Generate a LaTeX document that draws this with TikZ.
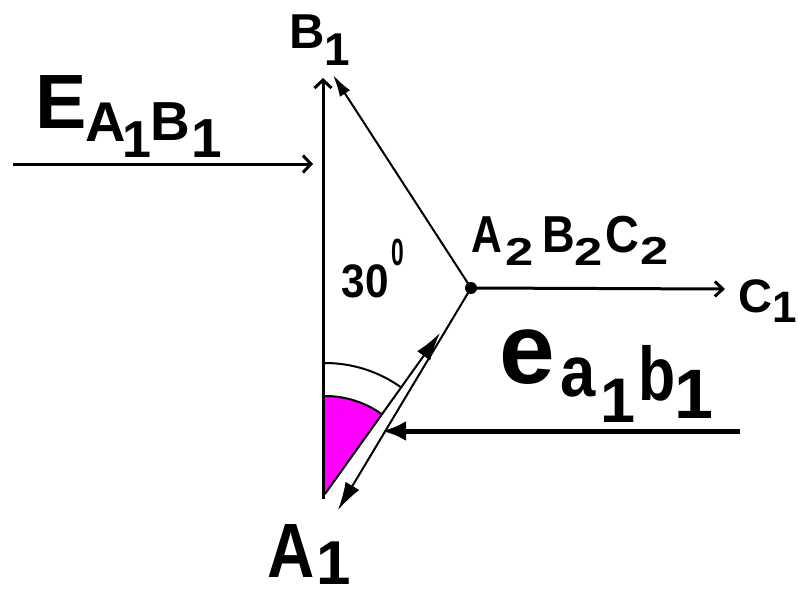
\documentclass[tikz,border=0pt]{standalone}
\usepackage{fontspec}
\setmainfont{Liberation Sans}
\usetikzlibrary{arrows.meta,calc}
\definecolor{mag}{RGB}{255,0,255}
\newcommand{\gsz}[1]{\fontsize{#1pt}{#1pt}\bfseries\selectfont}
\newcommand{\sx}[2]{\scalebox{#1}[1]{#2}}
\begin{document}
\begin{tikzpicture}[x=1pt,y=-1pt,
  g/.style={inner sep=0pt,anchor=base},
  thick line/.style={line width=3pt},
  thin line/.style={line width=2pt},
  barb/.style={-{Straight Barb[length=8pt,width=17pt]}},
]
\useasboundingbox (0,0) rectangle (798,597);
% key points
\coordinate (A1v) at (325,494);
\coordinate (Bot) at (323,499);
\coordinate (Btop) at (323,78);
\coordinate (O) at (471,288);
\coordinate (Btip) at (333,75);
\coordinate (Ctip) at (725,289);
\coordinate (Es) at (13,164);
\coordinate (Et) at (313,164);
\coordinate (es) at (740,431);
\coordinate (et) at (382,431);
\coordinate (Ltip) at (440,333);
\coordinate (Rtip) at (338,510);
% magenta sector
\fill[mag] (A1v) -- ++(-90:98) arc[start angle=-90,end angle=-54.5,radius=98] -- cycle;
\draw[thin line] ($(A1v)+(-90:98)$) arc[start angle=-90,end angle=-54.5,radius=98];
\draw[thin line] ($(A1v)+(-90:131)$) arc[start angle=-90,end angle=-54.5,radius=131];
% main lines
\draw[thick line,barb] (Bot) -- (Btop);
\draw[thick line,barb] (Es) -- (Et);
\draw[thin line,-{Latex[length=22pt,width=12pt]}] (O) -- (Btip);
\draw[thick line,-{Straight Barb[length=8pt,width=15pt]}] (O) -- (Ctip);
\draw[thin line,-{Latex[length=28pt,width=16pt]}] (O) -- (Rtip);
\draw[thin line,-{Latex[length=28pt,width=16pt]}] (A1v) -- (Ltip);
\draw[line width=5pt,-{Latex[length=24pt,width=20pt]}] (es) -- (et);
\fill (O) circle[radius=6];
% labels E_{A1B1}
\node[g,font=\gsz{77}] (E) at (61,128) {E};
\node[g,font=\gsz{56}] (EA) at (106,141) {A};
\node[g,font=\gsz{52}] (E1a) at (137,157) {1};
\node[g,font=\gsz{55}] (EB) at (170,140) {B};
\node[g,font=\gsz{55}] (E1b) at (207,157) {1};
% e_{a1b1}
\node[g,font=\gsz{100}] (e) at (527.5,383) {e};
\node[g,font=\gsz{72}] (ea) at (578,396) {\sx{0.88}{a}};
\node[g,font=\gsz{63}] (e1a) at (618,422) {1};
\node[g,font=\gsz{76}] (eb) at (657,400) {\sx{0.8}{b}};
\node[g,font=\gsz{70}] (e1b) at (694,418) {1};
% A1
\node[g,font=\gsz{77}] (LA) at (291.5,577) {\sx{0.85}{A}};
\node[g,font=\gsz{62}] (LA1) at (334,584) {1};
% B1
\node[g,font=\gsz{49}] (LB) at (307.5,48) {B};
\node[g,font=\gsz{46}] (LB1) at (337,65) {1};
% C1
\node[g,font=\gsz{47}] (LC) at (755,312) {C};
\node[g,font=\gsz{44}] (LC1) at (785,322) {1};
% A2B2C2
\node[g,font=\gsz{52}] (PA) at (487,252) {\sx{0.82}{A}};
\node[g,font=\gsz{39}] (PA2) at (520,265) {\sx{1.3}{2}};
\node[g,font=\gsz{52}] (PB) at (558.5,252) {\sx{0.87}{B}};
\node[g,font=\gsz{39}] (PB2) at (588.5,265) {\sx{1.3}{2}};
\node[g,font=\gsz{52}] (PC) at (622.5,252) {\sx{0.9}{C}};
\node[g,font=\gsz{39}] (PC2) at (654.5,264) {\sx{1.3}{2}};
% 30^0
\node[g,font=\gsz{47}] (ang) at (365.5,297) {\sx{0.9}{30}};
\node[g,font=\gsz{38}] (deg) at (397.5,265) {\sx{0.6}{0}};
\end{tikzpicture}
\end{document}
